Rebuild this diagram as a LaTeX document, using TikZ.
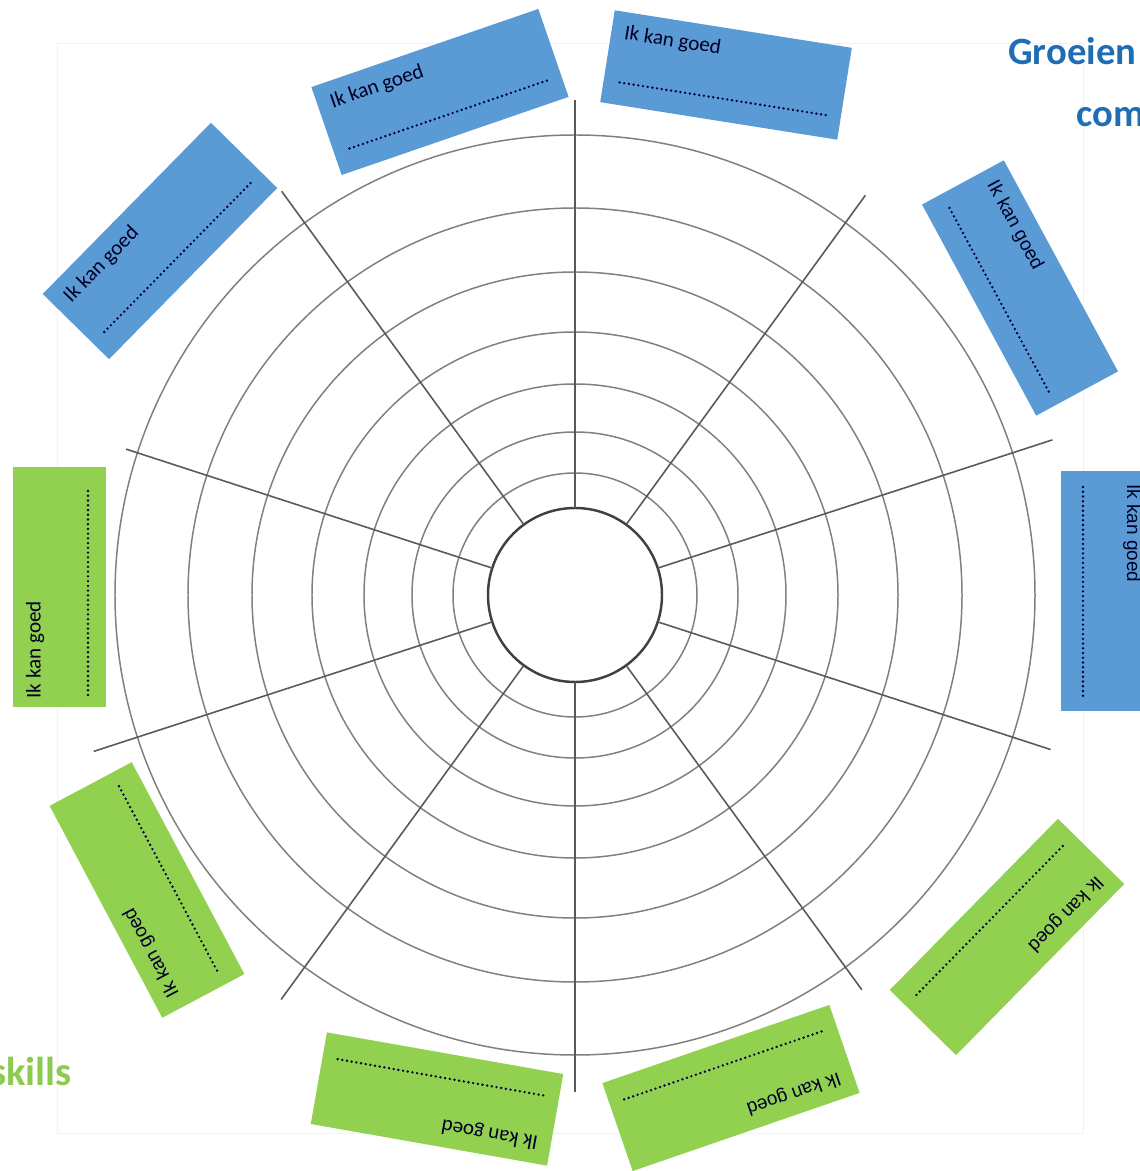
\documentclass[tikz,border=0pt]{standalone}
\usepackage{fontspec}
\setmainfont{Carlito}
\newfontfamily\arialfont{Liberation Sans}
\usepackage{tikz}
\definecolor{kanblauw}{HTML}{5B9BD5}
\definecolor{kangroen}{HTML}{92D050}
\definecolor{titelblauw}{HTML}{1F6EB5}
\definecolor{titelgroen}{HTML}{8CCB4E}

\begin{document}
\begin{tikzpicture}[x=0.2mm, y=0.2mm,
    ring/.style={color=black!50, line width=0.85},
    spaak/.style={color=black!65, line width=0.9},
    kanvak/.style={minimum width=48mm, minimum height=18.6mm, inner sep=0pt},
    kantekst/.style={font=\fontsize{12}{14}\selectfont, text=black!85!blue, inner sep=0pt, anchor=west},
    kantekst2/.style={font=\arialfont\fontsize{10.8}{13}\selectfont, text=black!85!blue, inner sep=0pt, anchor=west},
    stippel/.style={line width=1.5pt, dash pattern=on 0pt off 2.7pt, line cap=round, color=black!80!blue}]
\useasboundingbox (-575,-576) rectangle (564,595);
\draw [color=black!5] (-518,552) rectangle (508,-538);

    % rings
    \draw [ring] (0,0) circle (460);
    \draw [ring] (0,0) circle (387);
    \draw [ring] (0,0) circle (323);
    \draw [ring] (0,0) circle (263);
    \draw [ring] (0,0) circle (211);
    \draw [ring] (0,0) circle (163);
    \draw [ring] (0,0) circle (122);
    \draw [color=black!75, line width=1.4] (0,0) circle (87);

    % spokes
    \draw [spaak] (90:87) -- (90:495);
    \draw [spaak] (54:87) -- (54:494);
    \draw [spaak] (18:87) -- (18:502);
    \draw [spaak] (-18:87) -- (-18:500);
    \draw [spaak] (-54:87) -- (-54:488);
    \draw [spaak] (-90:87) -- (-90:497);
    \draw [spaak] (-126:87) -- (-126:500);
    \draw [spaak] (-162:87) -- (-162:506);
    \draw [spaak] (162:87) -- (162:472);
    \draw [spaak] (126:87) -- (126:499);

    % blue boxes
    \begin{scope}[shift={(151,520)}, rotate=-9, transform shape]
    \node [kanvak, fill=kanblauw] (vak1) at (0,0) {};
    \node [kantekst] (tekst1) at (-107,25) {Ik kan goed};
    \draw [stippel] (-104,-24) -- (107,-24);
    \end{scope}
    \begin{scope}[shift={(-135,503)}, rotate=19, transform shape]
    \node [kanvak, fill=kanblauw] (vak2) at (0,0) {};
    \node [kantekst] (tekst2) at (-107,25) {Ik kan goed};
    \draw [stippel] (-104,-24) -- (107,-24);
    \end{scope}
    \begin{scope}[shift={(-415,354)}, rotate=45.5, transform shape]
    \node [kanvak, fill=kanblauw] (vak3) at (0,0) {};
    \node [kantekst] (tekst3) at (-107,25) {Ik kan goed};
    \draw [stippel] (-104,-24) -- (107,-24);
    \end{scope}
    \begin{scope}[shift={(445,307)}, rotate=-61.6, transform shape]
    \node [kanvak, fill=kanblauw] (vak4) at (0,0) {};
    \node [kantekst2] (tekst4) at (-107,25) {Ik kan goed};
    \draw [stippel] (-104,-24) -- (107,-24);
    \end{scope}
    \begin{scope}[shift={(532,4)}, rotate=-90, transform shape]
    \node [kanvak, fill=kanblauw] (vak5) at (0,0) {};
    \node [kantekst2] (tekst5) at (-107,25) {Ik kan goed};
    \draw [stippel] (-104,-24) -- (107,-24);
    \end{scope}

    % green boxes
    \begin{scope}[shift={(-515,8)}, rotate=90, transform shape]
    \node [kanvak, fill=kangroen] (vak6) at (0,0) {};
    \node [kantekst] (tekst6) at (-112,25) {Ik kan goed};
    \draw [stippel] (-108,-28) -- (100,-28);
    \end{scope}
    \begin{scope}[shift={(-428,-295)}, rotate=118, transform shape]
    \node [kanvak, fill=kangroen] (vak7) at (0,0) {};
    \node [kantekst2] (tekst7) at (-107,25) {Ik kan goed};
    \draw [stippel] (-104,-24) -- (107,-24);
    \end{scope}
    \begin{scope}[shift={(-138,-504)}, rotate=170, transform shape]
    \node [kanvak, fill=kangroen] (vak8) at (0,0) {};
    \node [kantekst] (tekst8) at (-107,25) {Ik kan goed};
    \draw [stippel] (-104,-22) -- (107,-22);
    \end{scope}
    \begin{scope}[shift={(156,-493)}, rotate=199, transform shape]
    \node [kanvak, fill=kangroen] (vak9) at (0,0) {};
    \node [kantekst2] (tekst9) at (-107,25) {Ik kan goed};
    \draw [stippel] (-104,-24) -- (107,-24);
    \end{scope}
    \begin{scope}[shift={(432,-342)}, rotate=225.5, transform shape]
    \node [kanvak, fill=kangroen] (vak10) at (0,0) {};
    \node [kantekst2] (tekst10) at (-107,25) {Ik kan goed};
    \draw [stippel] (-104,-24) -- (107,-24);
    \end{scope}

    % titles
    \node [anchor=base west, inner sep=0pt, text=titelblauw, font=\bfseries\fontsize{22}{26}\selectfont] (groeien) at (433,530) {Groeien};
    \node [anchor=base west, inner sep=0pt, text=titelblauw, font=\bfseries\fontsize{22}{26}\selectfont] (com) at (501,468) {com};
    \node [anchor=base east, inner sep=0pt, text=titelgroen, font=\bfseries\fontsize{23}{27}\selectfont] (skills) at (-503,-490) {skills};

\end{tikzpicture}
\end{document}
